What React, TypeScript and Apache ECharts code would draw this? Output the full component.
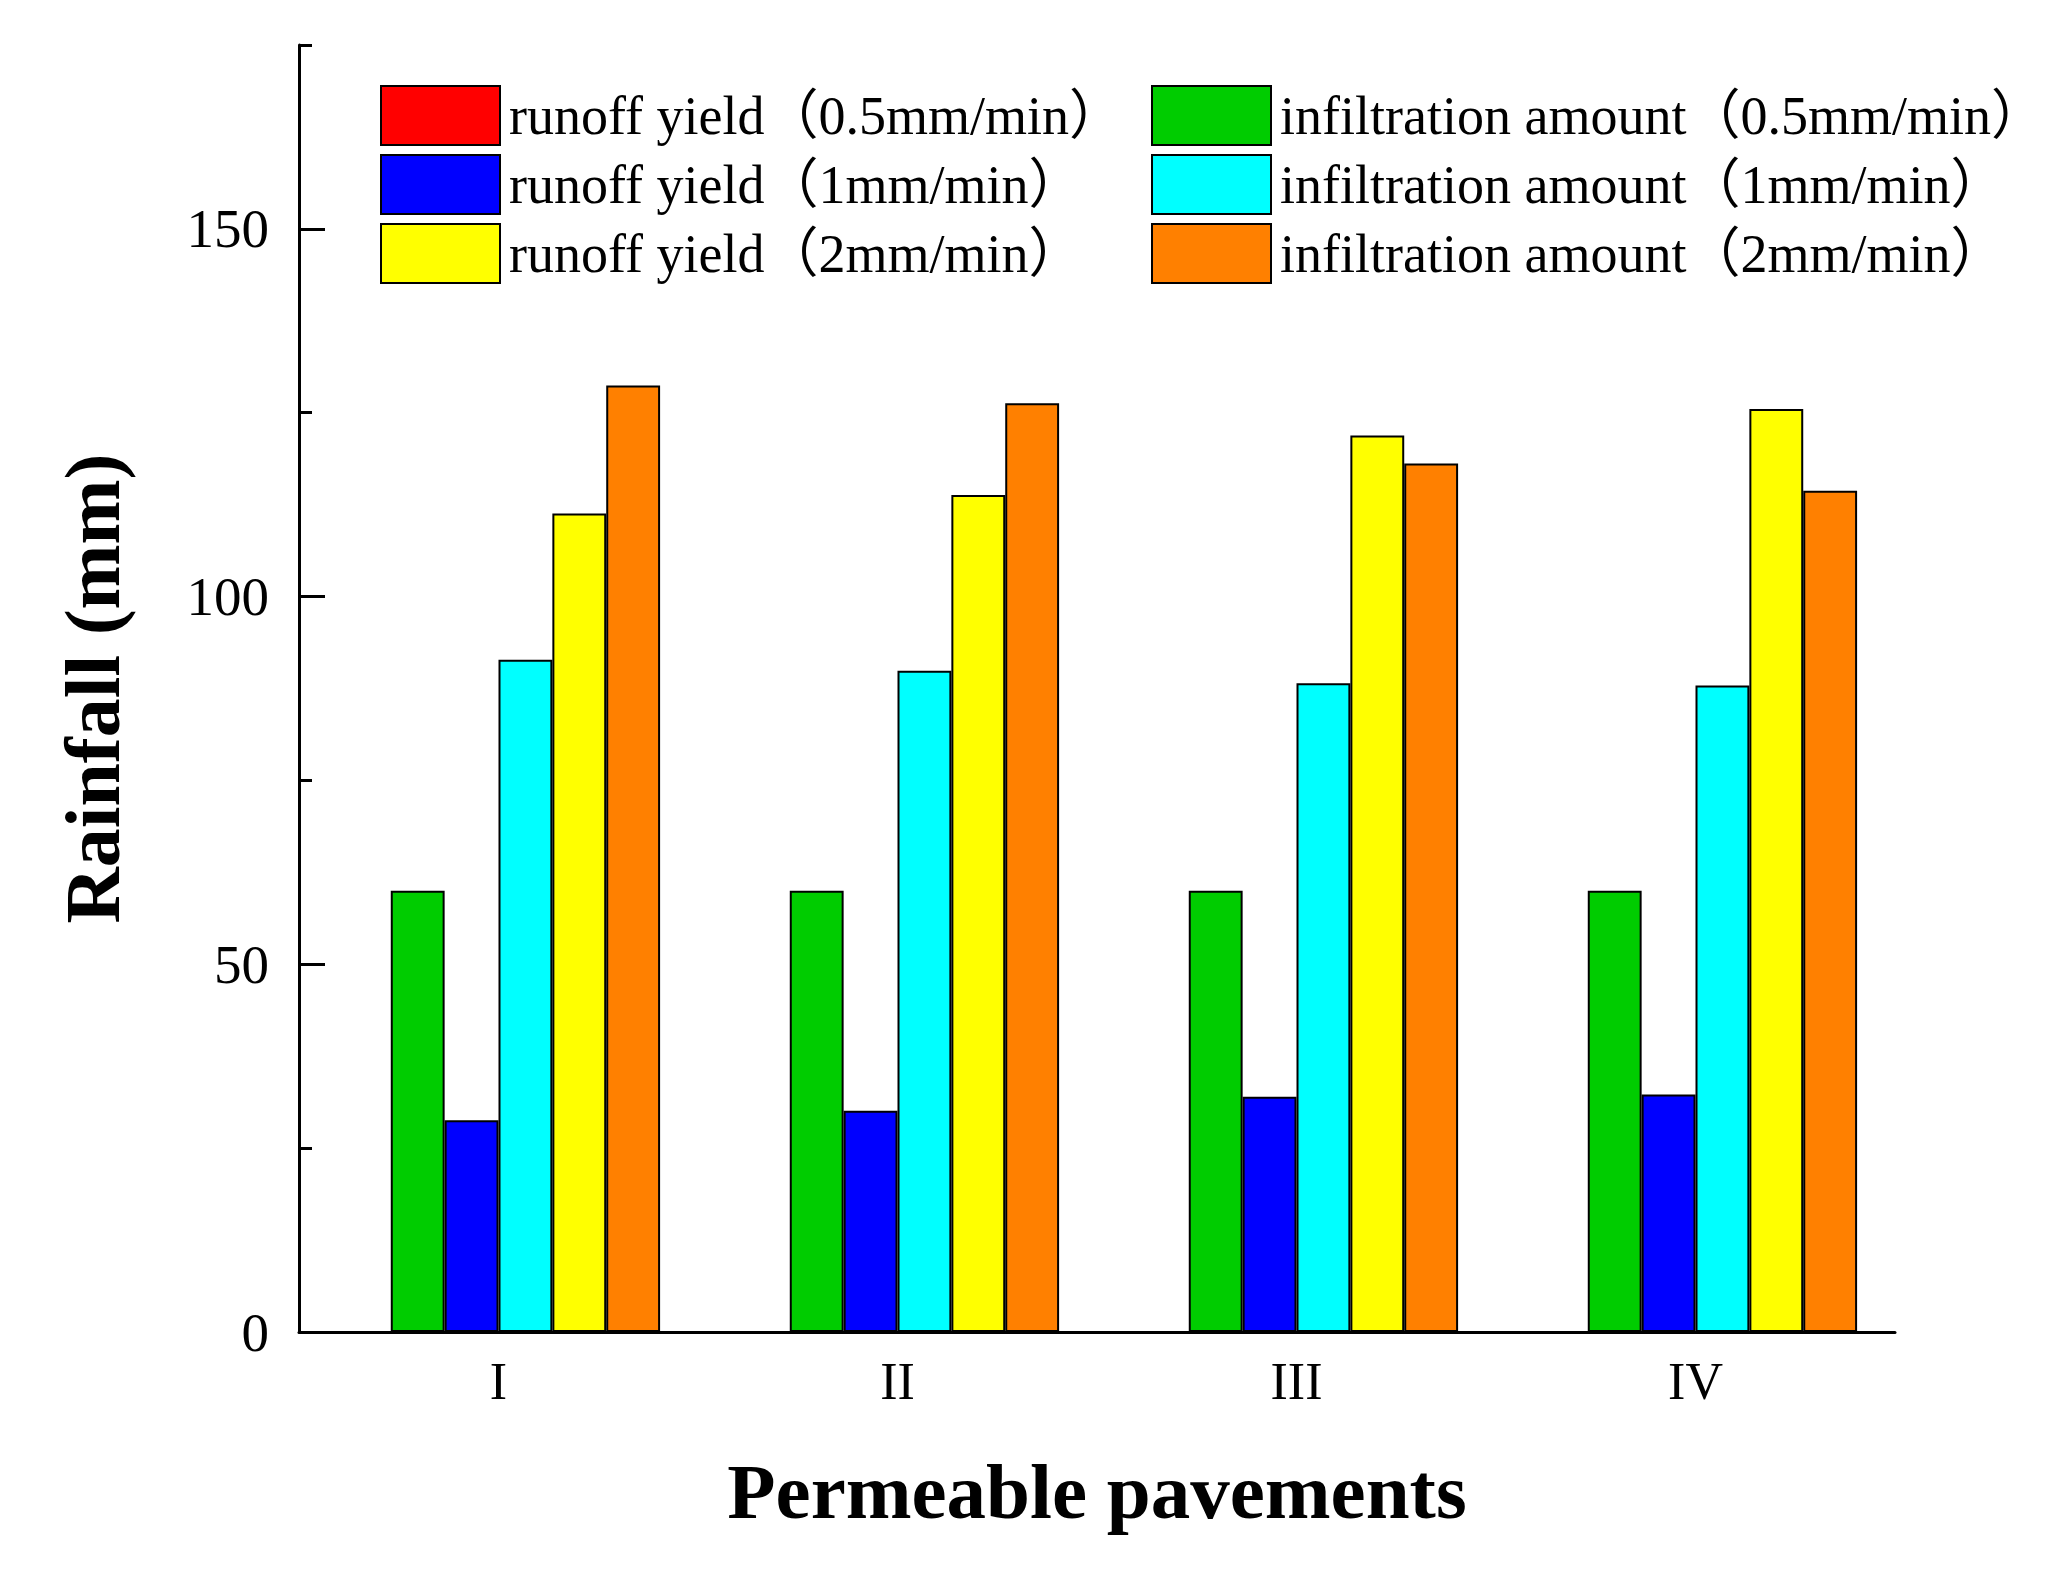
import React, { useEffect, useRef } from "react";
import * as echarts from "echarts";

const categories = ["I", "II", "III", "IV"];
const runoff05 = [0, 0, 0, 0];
const infil05 = [60, 60, 60, 60];
const runoff1 = [28.8, 30.1, 32.0, 32.3];
const infil1 = [91.4, 89.9, 88.2, 87.9];
const runoff2 = [111.3, 113.8, 121.9, 125.5];
const infil2 = [128.7, 126.3, 118.1, 114.4];

const majorTicks = [0, 50, 100, 150];
const minorTicks = [25, 75, 125, 175];

const names = {
  r05: "runoff yield（0.5mm/min）",
  r1: "runoff yield（1mm/min）",
  r2: "runoff yield（2mm/min）",
  i05: "infiltration amount（0.5mm/min）",
  i1: "infiltration amount（1mm/min）",
  i2: "infiltration amount（2mm/min）",
};

const FONT = "'Liberation Serif', 'Times New Roman', 'Noto Sans CJK SC', serif";

export default function App() {
  const ref = useRef<HTMLDivElement>(null);
  useEffect(() => {
    document.body.style.margin = "0";
    const chart = echarts.init(ref.current!, null, { renderer: "svg" });
    const bar = (name: string, data: number[], color: string) => ({
      name,
      type: "bar",
      data,
      yAxisIndex: 0,
      barGap: "0%",
      barCategoryGap: "19%",
      itemStyle: { color, borderColor: "#000", borderWidth: 2 },
    });
    const legendCommon = {
      orient: "vertical",
      top: 80,
      itemWidth: 119,
      itemHeight: 59,
      itemGap: 8,
      icon: "rect",
      selectedMode: false,
      textStyle: { fontFamily: FONT, fontSize: 54, color: "#000", padding: [0, 0, 0, 4] },
    };
    chart.setOption({
      animation: false,
      backgroundColor: "#fff",
      textStyle: { fontFamily: FONT },
      grid: { left: 299, right: 173, top: 45, bottom: 248, containLabel: false },
      legend: [
        { ...legendCommon, left: 375, data: [names.r05, names.r1, names.r2] },
        { ...legendCommon, left: 1146, data: [names.i05, names.i1, names.i2] },
      ],
      xAxis: {
        type: "category",
        data: categories,
        name: "Permeable pavements",
        nameLocation: "middle",
        nameGap: 120,
        nameTextStyle: { fontFamily: FONT, fontSize: 79, fontWeight: "bold", color: "#000" },
        axisLine: { lineStyle: { color: "#000", width: 3 } },
        axisTick: { show: false },
        axisLabel: { fontFamily: FONT, fontSize: 52, color: "#000", margin: 23 },
      },
      yAxis: [
        {
          type: "value",
          min: 0,
          max: 175,
          interval: 25,
          name: "Rainfall (mm)",
          nameLocation: "middle",
          nameGap: 168,
          nameTextStyle: { fontFamily: FONT, fontSize: 78, fontWeight: "bold", color: "#000" },
          axisLine: { show: true, lineStyle: { color: "#000", width: 3 } },
          axisTick: { show: true, inside: true, length: 26, customValues: majorTicks, lineStyle: { color: "#000", width: 3 } },
          axisLabel: { customValues: majorTicks, fontFamily: FONT, fontSize: 55, color: "#000", margin: 30 },
          splitLine: { show: false },
        },
        {
          type: "value",
          min: 0,
          max: 175,
          interval: 25,
          position: "left",
          axisLine: { show: false },
          axisTick: { show: true, inside: true, length: 13, customValues: minorTicks, lineStyle: { color: "#000", width: 3 } },
          axisLabel: { show: false },
          splitLine: { show: false },
        },
      ],
      series: [
        bar(names.r05, runoff05, "#FF0000"),
        bar(names.i05, infil05, "#00CC00"),
        bar(names.r1, runoff1, "#0000FF"),
        bar(names.i1, infil1, "#00FFFF"),
        bar(names.r2, runoff2, "#FFFF00"),
        bar(names.i2, infil2, "#FF8000"),
      ],
    });
    return () => chart.dispose();
  }, []);
  return <div ref={ref} style={{ width: 2068, height: 1580 }} />;
}
